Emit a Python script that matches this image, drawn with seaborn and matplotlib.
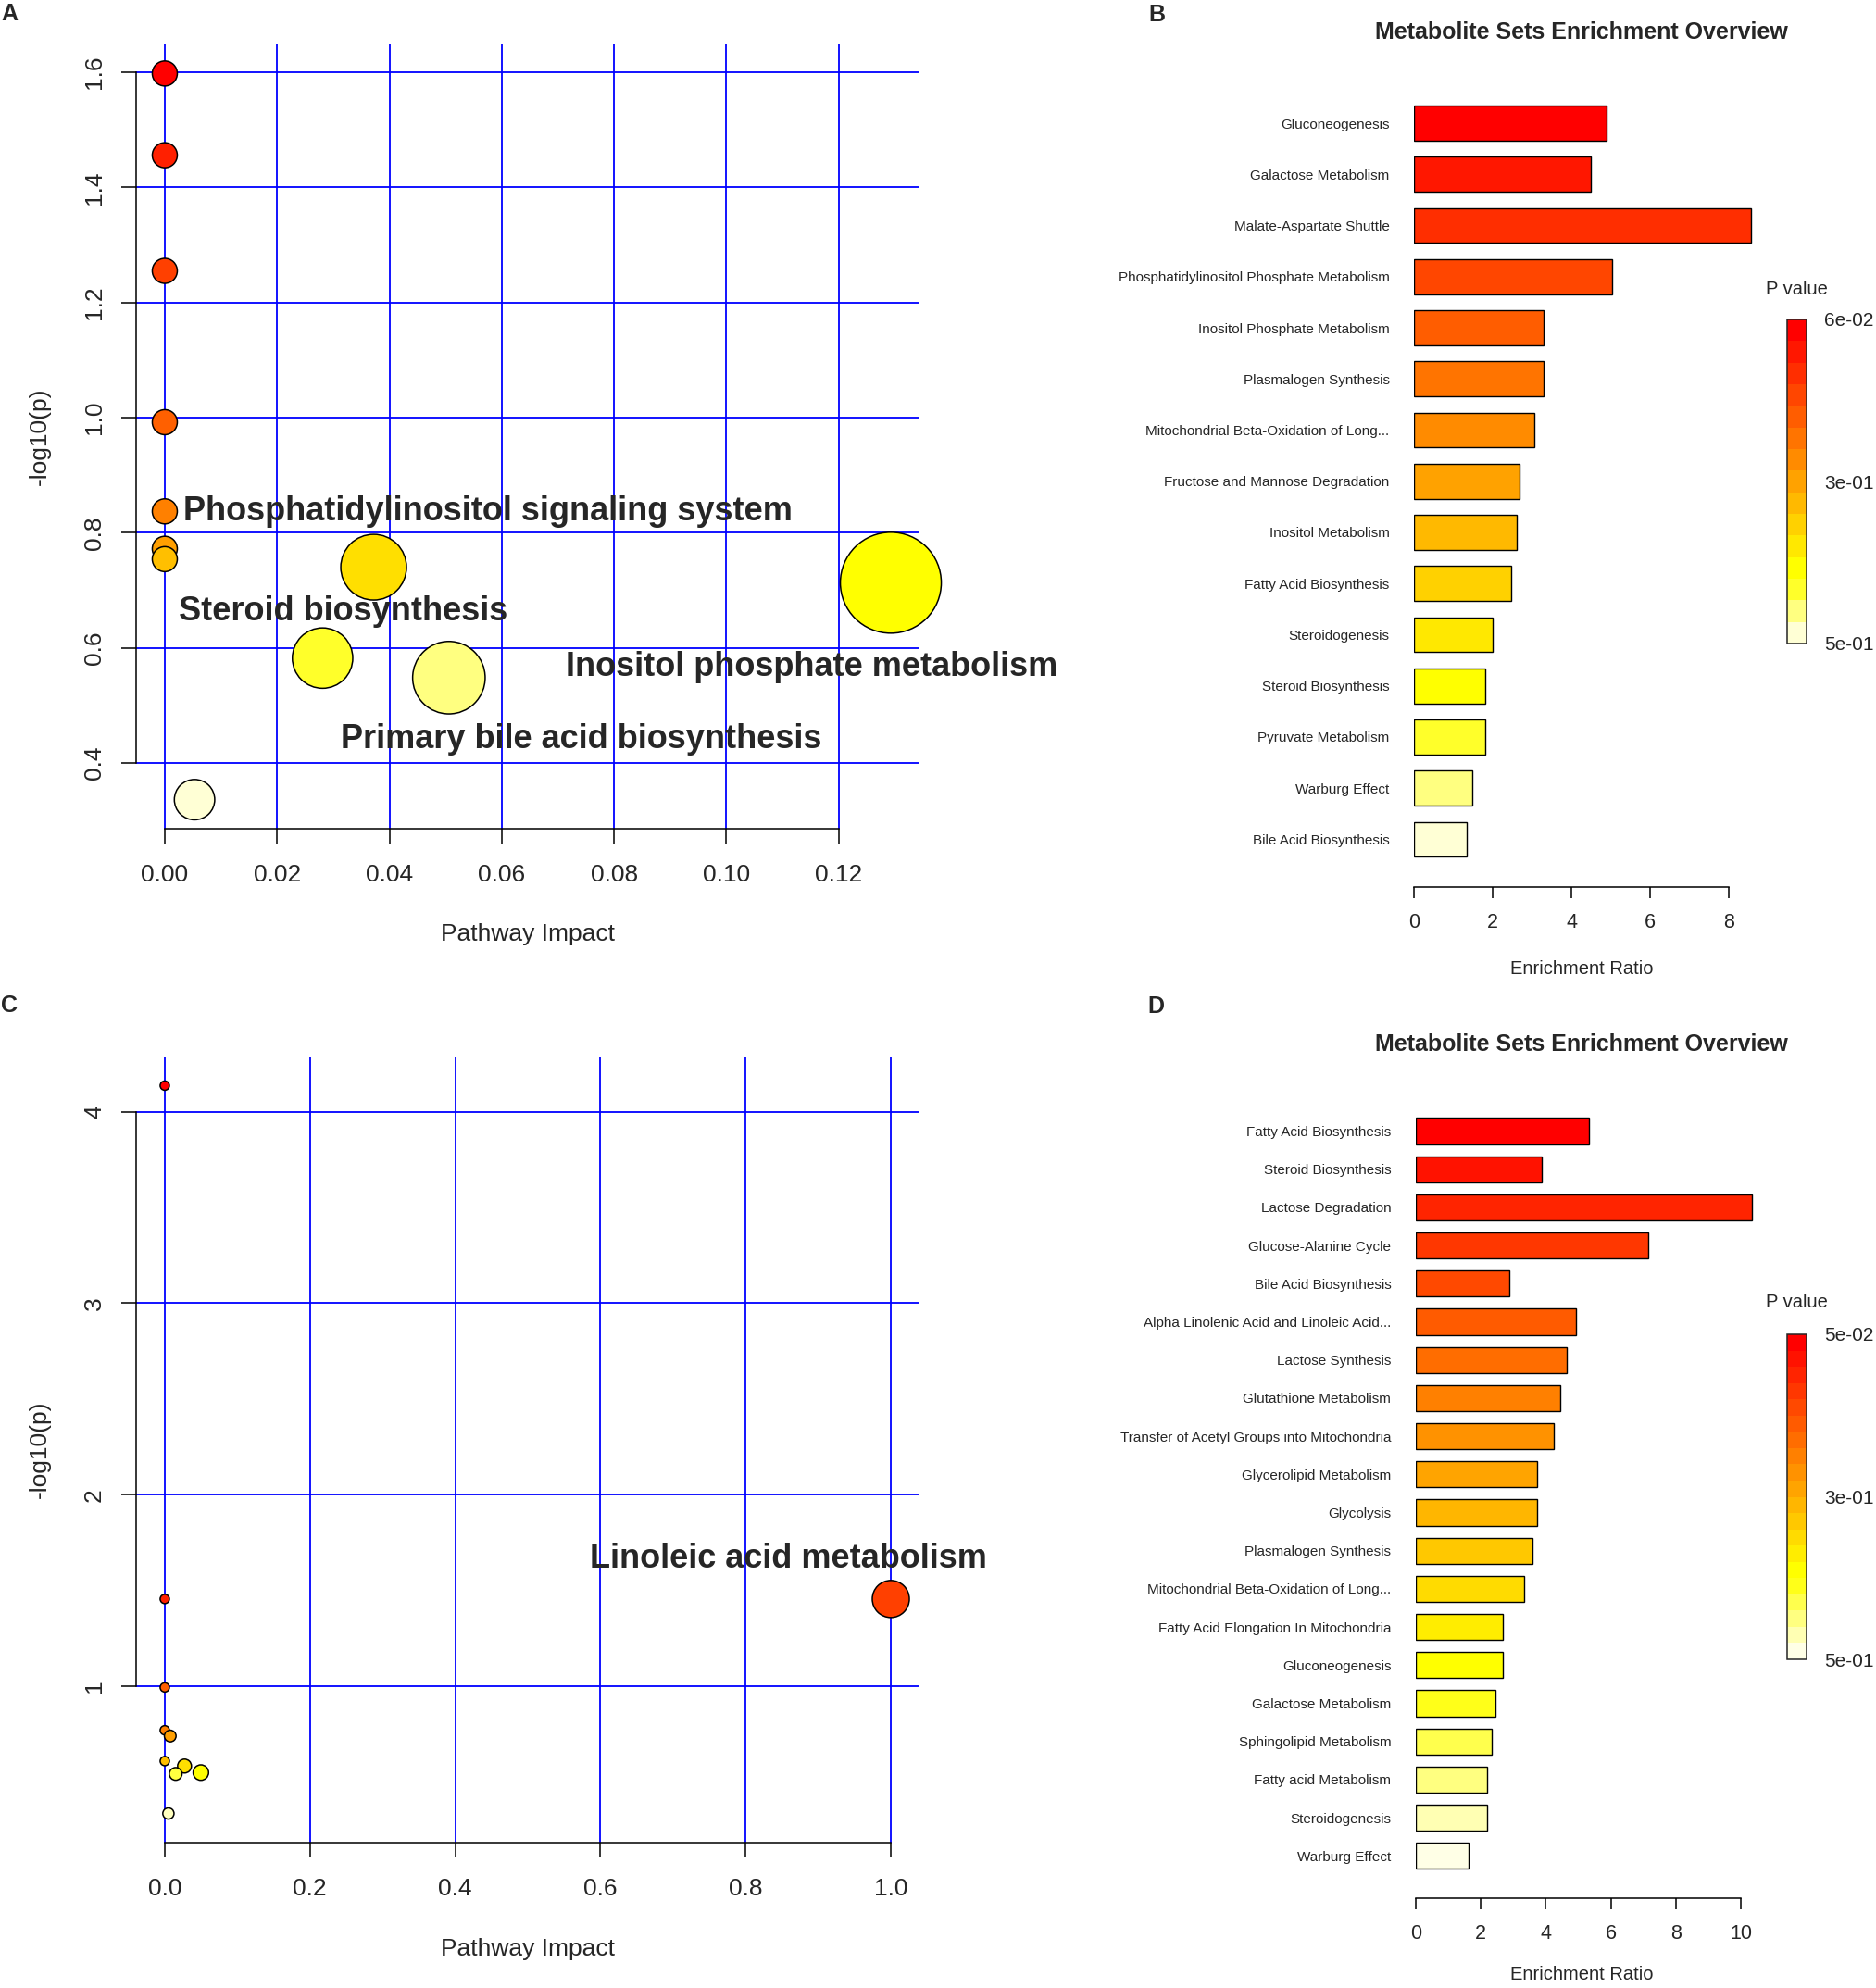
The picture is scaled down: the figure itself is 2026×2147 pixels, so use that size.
import colorsys
import numpy as np
import pandas as pd
import matplotlib
matplotlib.use("Agg")
import matplotlib.pyplot as plt
from matplotlib.colors import ListedColormap, Normalize
from matplotlib.cm import ScalarMappable
from matplotlib.ticker import FormatStrFormatter
import seaborn as sns

# ---- panel A: pathway analysis (impact vs -log10 p)
a_impact = [0.0, 0.0, 0.0, 0.0, 0.0, 0.0, 0.0, 0.0372, 0.1293, 0.0281, 0.0506, 0.0053]
a_logp = [1.598, 1.456, 1.255, 0.992, 0.837, 0.772, 0.754, 0.740, 0.713, 0.582, 0.548, 0.336]
a_names = {7: "Phosphatidylinositol signaling system",
           9: "Steroid biosynthesis",
           10: "Primary bile acid biosynthesis",
           8: "Inositol phosphate metabolism"}

# ---- panel B: enrichment overview
b_sets = ["Gluconeogenesis", "Galactose Metabolism", "Malate-Aspartate Shuttle",
          "Phosphatidylinositol Phosphate Metabolism", "Inositol Phosphate Metabolism",
          "Plasmalogen Synthesis", "Mitochondrial Beta-Oxidation of Long...",
          "Fructose and Mannose Degradation", "Inositol Metabolism",
          "Fatty Acid Biosynthesis", "Steroidogenesis", "Steroid Biosynthesis",
          "Pyruvate Metabolism", "Warburg Effect", "Bile Acid Biosynthesis"]
b_ratio = [4.89, 4.50, 8.56, 5.04, 3.29, 3.29, 3.06, 2.68, 2.60, 2.46, 2.00, 1.80, 1.80, 1.49, 1.33]
b_prange = (0.06, 0.5)

# ---- panel C
c_impact = [0.0, 0.0, 1.0, 0.0, 0.0, 0.0075, 0.0, 0.0272, 0.0497, 0.015, 0.005]
c_logp = [4.137, 1.455, 1.455, 0.993, 0.769, 0.739, 0.608, 0.582, 0.548, 0.541, 0.334]
c_names = {2: "Linoleic acid metabolism"}

# ---- panel D
d_sets = ["Fatty Acid Biosynthesis", "Steroid Biosynthesis", "Lactose Degradation",
          "Glucose-Alanine Cycle", "Bile Acid Biosynthesis",
          "Alpha Linolenic Acid and Linoleic Acid...", "Lactose Synthesis",
          "Glutathione Metabolism", "Transfer of Acetyl Groups into Mitochondria",
          "Glycerolipid Metabolism", "Glycolysis", "Plasmalogen Synthesis",
          "Mitochondrial Beta-Oxidation of Long...", "Fatty Acid Elongation In Mitochondria",
          "Gluconeogenesis", "Galactose Metabolism", "Sphingolipid Metabolism",
          "Fatty acid Metabolism", "Steroidogenesis", "Warburg Effect"]
d_ratio = [5.34, 3.87, 10.34, 7.15, 2.87, 4.92, 4.66, 4.44, 4.24, 3.73, 3.73, 3.60,
           3.33, 2.67, 2.67, 2.45, 2.35, 2.19, 2.19, 1.62]
d_prange = (0.05, 0.5)

W, H = 2026, 2147
sns.set_style("white")
plt.rcParams["font.family"] = ["Liberation Sans", "DejaVu Sans"]


def heat_colors(n):
    # same as R's heat.colors()
    j = n // 4
    i = n - j
    cols = [colorsys.hsv_to_rgb(h, 1, 1) for h in np.linspace(0, 1 / 6, i)]
    if j > 0:
        cols += [colorsys.hsv_to_rgb(1 / 6, s, 1) for s in np.linspace(1 - 1 / (2 * j), 1 / (2 * j), j)]
    return cols


def box(l, t, r, b):
    return [l / W, 1 - b / H, (r - l) / W, (b - t) / H]


def fx(x):
    return x / W


def fy(y):
    return 1 - y / H


fig = plt.figure(figsize=(W / 100, H / 100), dpi=100)


def bubble(ax, impact, logp, r0, r1, names, offsets, xticks, yticks, xfmt, yfmt):
    n = len(impact)
    df = pd.DataFrame({"impact": impact, "logp": logp, "rank": [str(i) for i in range(n)]})
    r = r0 + r1 * np.sqrt(np.array(impact) / max(impact))
    sns.scatterplot(data=df, x="impact", y="logp", hue="rank", palette=heat_colors(n),
                    s=(2 * r * 0.72) ** 2, edgecolor="black", linewidth=1.1,
                    legend=False, ax=ax, zorder=3, clip_on=False)
    xr = max(impact) - min(impact)
    yr = max(logp) - min(logp)
    ax.set_xlim(min(impact) - 0.04 * xr, max(impact) + 0.04 * xr)
    ax.set_ylim(min(logp) - 0.04 * yr, max(logp) + 0.04 * yr)
    ax.set_xticks(xticks)
    ax.set_yticks(yticks)
    ax.xaxis.set_major_formatter(FormatStrFormatter(xfmt))
    ax.yaxis.set_major_formatter(FormatStrFormatter(yfmt))
    ax.grid(True, color="blue", lw=1.3)
    ax.set_axisbelow(True)
    for s in ["top", "right"]:
        ax.spines[s].set_visible(False)
    ax.spines["left"].set_bounds(yticks[0], yticks[-1])
    ax.spines["bottom"].set_bounds(xticks[0], xticks[-1])
    for s in ["left", "bottom"]:
        ax.spines[s].set_color("black")
        ax.spines[s].set_linewidth(1.1)
    ax.tick_params(direction="out", length=11.5, width=1.1, labelsize=19, color="black",
                   bottom=True, left=True)
    ax.tick_params(axis="x", pad=16)
    ax.tick_params(axis="y", pad=12)
    plt.setp(ax.get_yticklabels(), rotation=90, va="center")
    ax.set_xlabel("Pathway Impact", fontsize=19, va="center")
    ax.xaxis.set_label_coords(0.5, -0.135)
    ax.set_ylabel("-log10(p)", fontsize=19, va="center")
    ax.yaxis.set_label_coords(-0.1227, 0.5)
    for k, name in names.items():
        ax.annotate(name, xy=(impact[k], logp[k]), xytext=offsets[k], textcoords="offset pixels",
                    ha="center", va="center", fontsize=26, fontweight="bold",
                    annotation_clip=False, zorder=4)


def enrich(ax, cax, sets, ratio, prange, xmax_tick, xlim, ylim):
    n = len(sets)
    cols = heat_colors(n)
    sns.barplot(x=ratio, y=sets, hue=sets, palette=cols, orient="h", width=0.68,
                saturation=1, edgecolor="black", linewidth=1.0, legend=False, ax=ax)
    ax.set_xlim(*xlim)
    ax.set_ylim(*ylim)
    ax.set_xticks(np.arange(0, xmax_tick + 1, 2))
    for s in ["top", "right", "left"]:
        ax.spines[s].set_visible(False)
    ax.spines["bottom"].set_bounds(0, xmax_tick)
    ax.spines["bottom"].set_color("black")
    ax.spines["bottom"].set_linewidth(1.1)
    ax.tick_params(axis="y", length=0, pad=19, labelsize=11)
    ax.tick_params(axis="x", direction="out", length=8.5, width=1.1, pad=12, labelsize=15.5,
                   color="black", bottom=True)
    ax.set_xlabel("")
    ax.set_ylabel("")
    # stepped p-value colour key
    sm = ScalarMappable(norm=Normalize(*prange), cmap=ListedColormap(cols))
    cb = fig.colorbar(sm, cax=cax)
    cax.invert_yaxis()
    mid = (prange[0] + prange[1]) / 2
    cb.set_ticks([prange[0], mid, prange[1]])
    cb.set_ticklabels(["{:.0e}".format(v) for v in (prange[0], mid, prange[1])])
    cax.tick_params(length=0, pad=14, labelsize=15)
    cb.outline.set_linewidth(1.1)


# A
axA = fig.add_axes(box(146.6, 48, 993.4, 895))
bubble(axA, a_impact, a_logp, 13.5, 41, a_names,
       {7: (123, 60), 9: (22, 50), 10: (143, -67), 8: (-85, -91)},
       [0, 0.02, 0.04, 0.06, 0.08, 0.10, 0.12], [0.4, 0.6, 0.8, 1.0, 1.2, 1.4, 1.6], "%.2f", "%.1f")

# C
axC = fig.add_axes(box(146.6, 1141, 993.4, 1990))
bubble(axC, c_impact, c_logp, 5, 15, c_names, {2: (-111, 43)},
       [0, 0.2, 0.4, 0.6, 0.8, 1.0], [1, 2, 3, 4], "%.1f", "%d")

# B
axB = fig.add_axes(box(1527, 100, 1905, 958))
caxB = fig.add_axes(box(1930, 345, 1951, 695))
enrich(axB, caxB, b_sets, b_ratio, b_prange, 8,
       (0, (1905 - 1527) / 42.53), ((958 - 133) / 55.25, (100 - 133) / 55.25))

# D
axD = fig.add_axes(box(1528.7, 1180, 1905, 2050))
caxD = fig.add_axes(box(1930, 1441, 1951, 1792))
enrich(axD, caxD, d_sets, d_ratio, d_prange, 10,
       (0, (1905 - 1528.7) / 35.14), ((2050 - 1221.5) / 41.2, (1180 - 1221.5) / 41.2))

# titles, axis titles and panel letters
for ty, ly, py in [(35, 1047, 313), (1128, 2133, 1406)]:
    fig.text(fx(1708), fy(ty), "Metabolite Sets Enrichment Overview", fontsize=18,
             fontweight="bold", ha="center", va="center")
    fig.text(fx(1708), fy(ly), "Enrichment Ratio", fontsize=14.5, ha="center", va="center")
    fig.text(fx(1940), fy(py), "P value", fontsize=14.5, ha="center", va="center")

for letter, x, y in [("A", 1, 14.5), ("B", 1240, 15.8), ("C", 1, 1085.7), ("D", 1239, 1086.6)]:
    fig.text(fx(x), fy(y), letter, fontsize=18, fontweight="bold", ha="left", va="center")

fig.savefig("out.png", dpi=100)
